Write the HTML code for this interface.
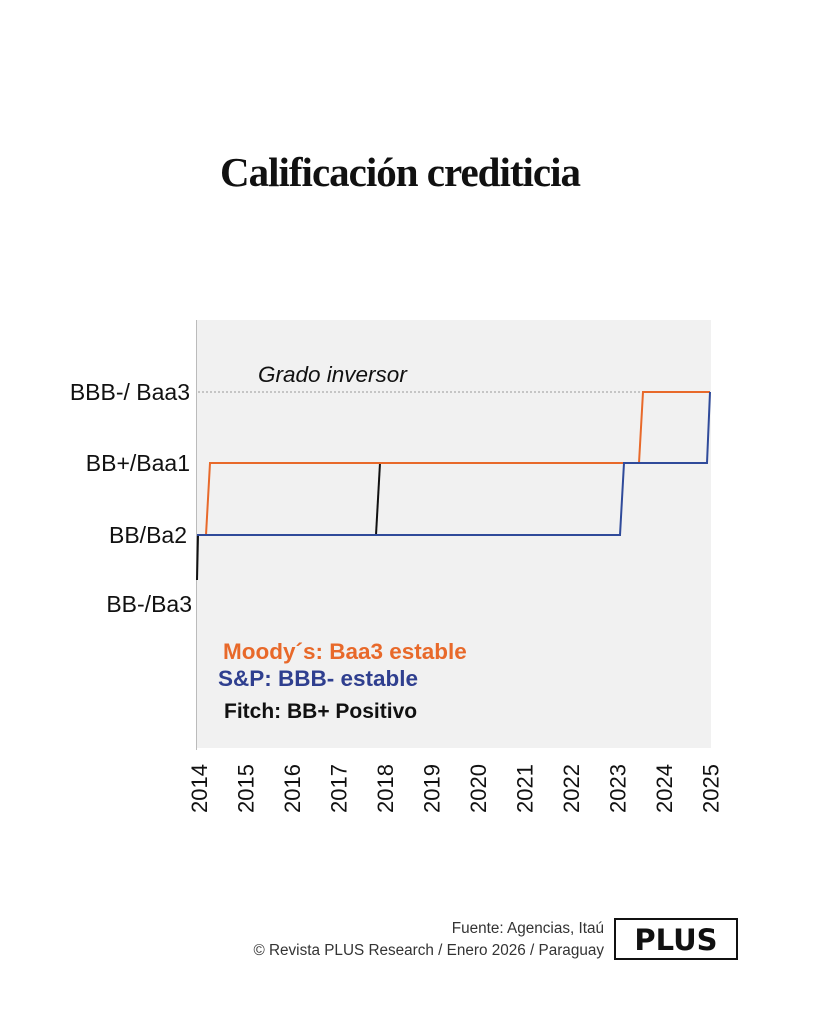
<!DOCTYPE html>
<html><head><meta charset="utf-8"><style>
body{margin:0;background:#fff;}
</style></head><body>
<svg width="819" height="1024" xmlns="http://www.w3.org/2000/svg" style="display:block">
<rect width="819" height="1024" fill="#fff"/>
<text x="400" y="186" text-anchor="middle" font-family="Liberation Serif, serif" font-weight="bold" font-size="41" letter-spacing="-1" fill="#111">Calificación crediticia</text>
<rect x="197" y="320" width="514" height="428" fill="#f1f1f1"/>
<line x1="196.5" y1="320" x2="196.5" y2="750" stroke="#bbb" stroke-width="1"/>
<line x1="198" y1="392" x2="710" y2="392" stroke="#999" stroke-width="1" stroke-dasharray="2,2"/>
<text x="258" y="382" font-family="Liberation Sans, sans-serif" font-style="italic" font-size="22.5" fill="#111">Grado inversor</text>
<g font-family="Liberation Sans, sans-serif" font-size="23" fill="#111" text-anchor="end">
<text x="190" y="400">BBB-/ Baa3</text>
<text x="190" y="471">BB+/Baa1</text>
<text x="187" y="543">BB/Ba2</text>
<text x="192" y="612">BB-/Ba3</text>
</g>
<g fill="none" stroke-width="2">
<polyline points="197,580 198,535" stroke="#111"/>
<polyline points="376,535 380,463" stroke="#111"/>
<polyline points="206,535 210,463 639,463 643,392 710,392" stroke="#e8692a"/>
<polyline points="197,535 620,535 624,463 707,463 710,392" stroke="#2f4a9a"/>
</g>
<g font-family="Liberation Sans, sans-serif" font-weight="bold" font-size="22.5">
<text x="223" y="659" fill="#e8692a">Moody´s: Baa3 estable</text>
<text x="218" y="686" fill="#2f3f8f">S&amp;P: BBB- estable</text>
<text x="224" y="718" fill="#111" font-size="21">Fitch: BB+ Positivo</text>
</g>
<g font-family="Liberation Sans, sans-serif" font-size="22" fill="#111">
<text transform="translate(207,813) rotate(-90)">2014</text>
<text transform="translate(253.5,813) rotate(-90)">2015</text>
<text transform="translate(300,813) rotate(-90)">2016</text>
<text transform="translate(346.5,813) rotate(-90)">2017</text>
<text transform="translate(393,813) rotate(-90)">2018</text>
<text transform="translate(439.5,813) rotate(-90)">2019</text>
<text transform="translate(486,813) rotate(-90)">2020</text>
<text transform="translate(532.5,813) rotate(-90)">2021</text>
<text transform="translate(579,813) rotate(-90)">2022</text>
<text transform="translate(625.5,813) rotate(-90)">2023</text>
<text transform="translate(672,813) rotate(-90)">2024</text>
<text transform="translate(718.5,813) rotate(-90)">2025</text>
</g>
<g font-family="Liberation Sans, sans-serif" font-size="15.3" fill="#333" text-anchor="end">
<text x="604" y="933">Fuente: Agencias, Itaú</text>
<text x="604" y="955">© Revista PLUS Research / Enero 2026 / Paraguay</text>
</g>
<rect x="615" y="919" width="122" height="40" fill="#fff" stroke="#111" stroke-width="2"/>
<text x="676" y="950" text-anchor="middle" font-family="DejaVu Sans, sans-serif" font-weight="bold" font-size="29" fill="#111">PLUS</text>
</svg>
</body></html>
